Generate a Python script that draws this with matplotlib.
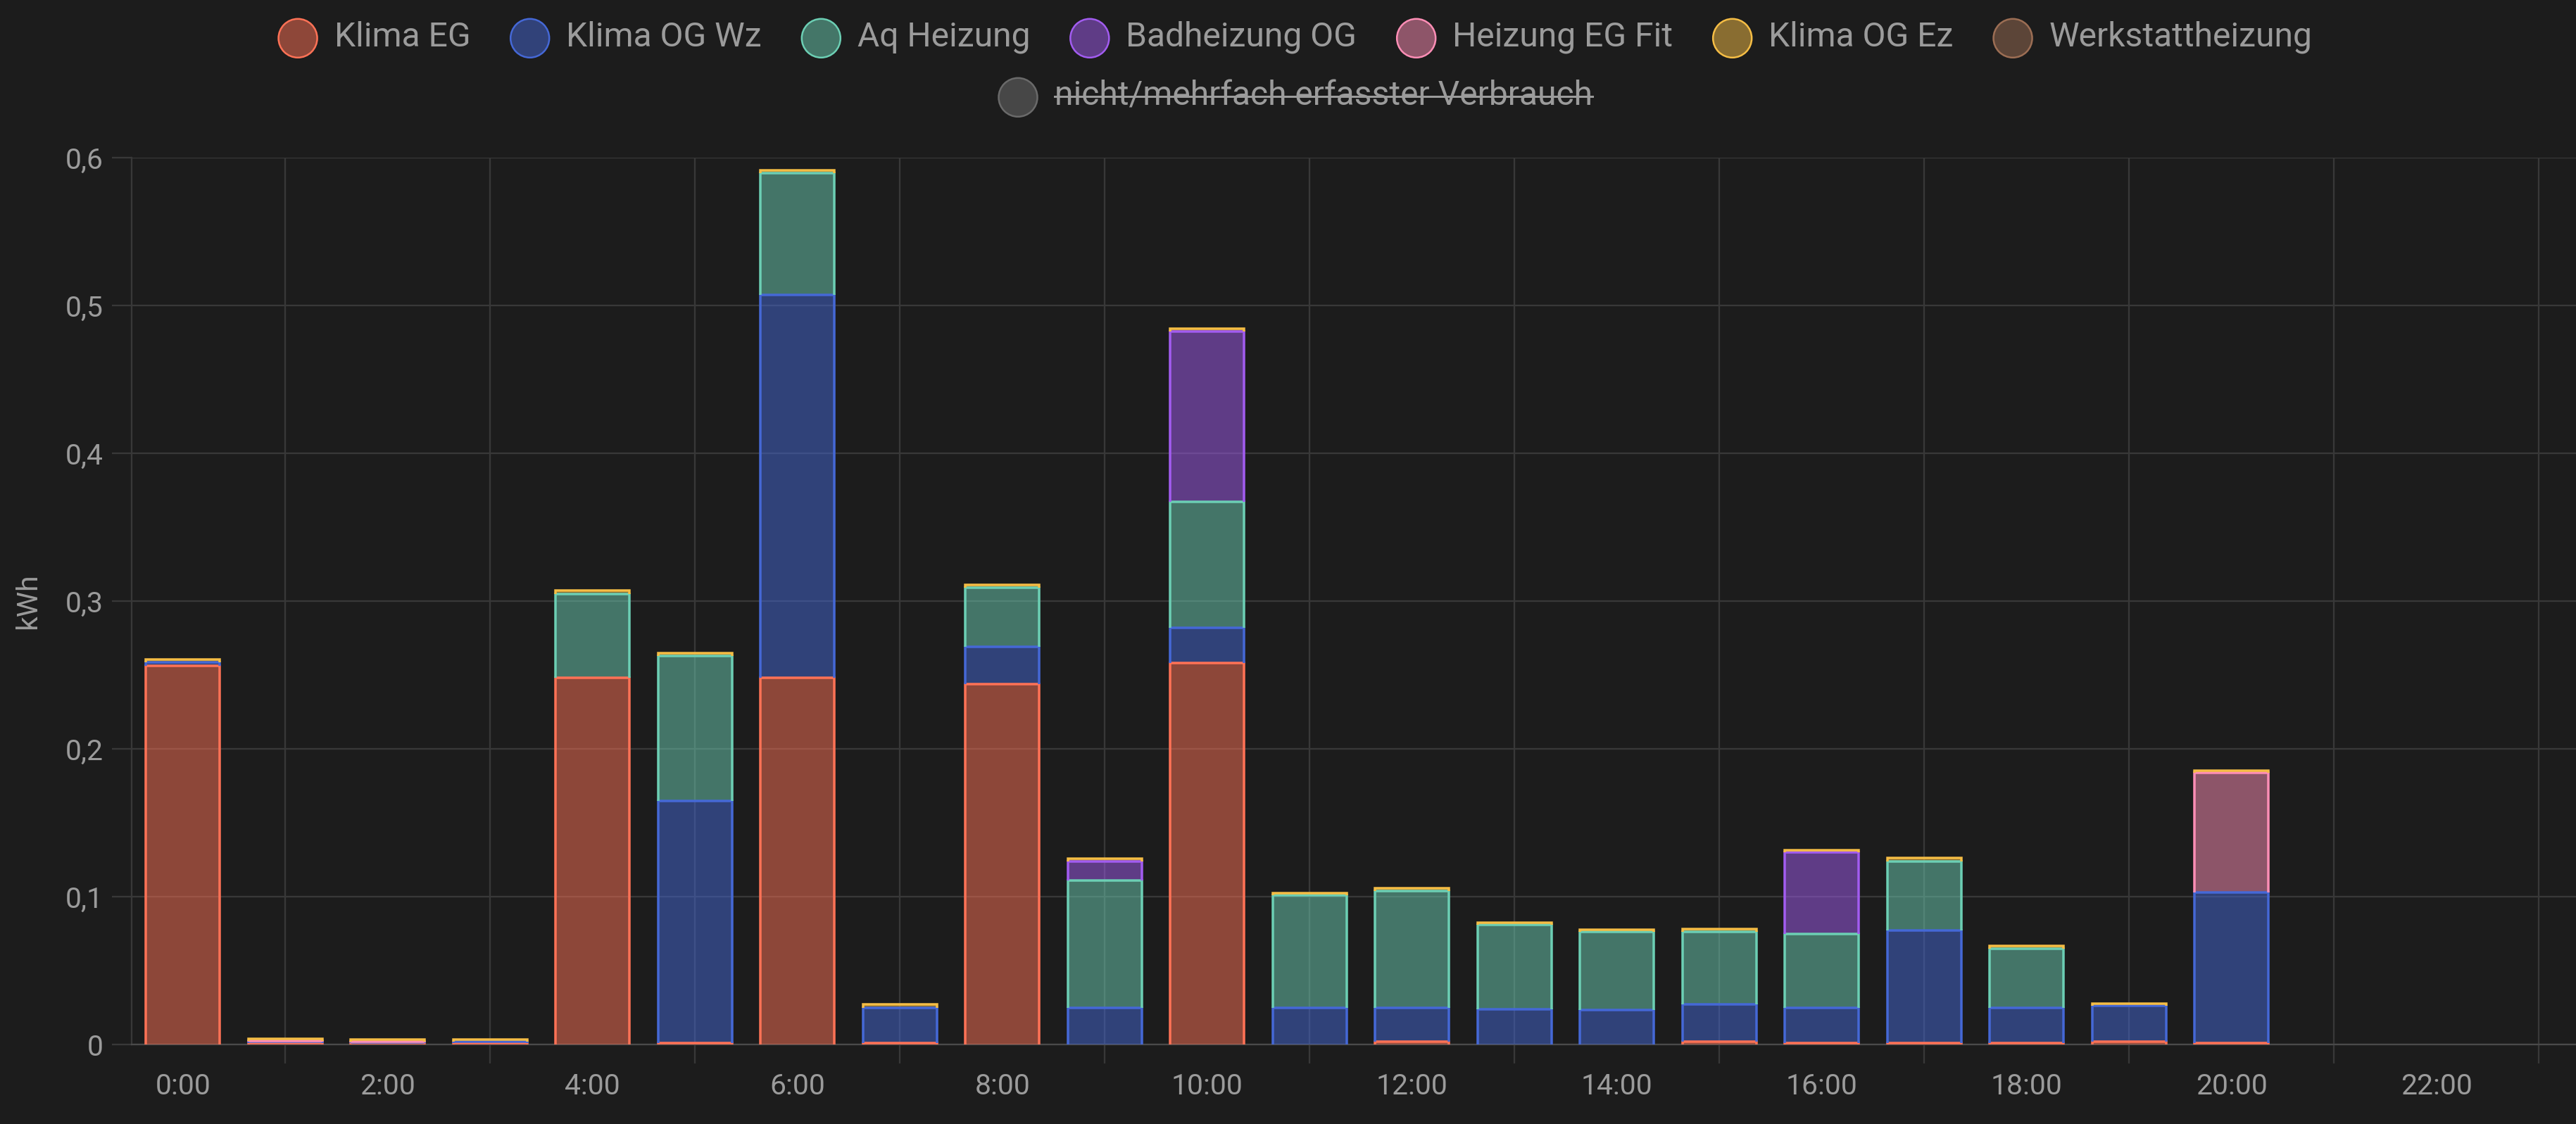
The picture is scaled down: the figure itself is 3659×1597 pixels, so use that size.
import numpy as np
import matplotlib
matplotlib.use("Agg")
import matplotlib.pyplot as plt
from matplotlib.patches import Ellipse
from matplotlib.lines import Line2D

# ---------------- data ----------------
hours = list(range(24))
tick_hours = list(range(0, 24, 2))
tick_labels = [f"{h}:00" for h in tick_hours]
y_ticks = [0, 0.1, 0.2, 0.3, 0.4, 0.5, 0.6]
y_tick_labels = ["0", "0,1", "0,2", "0,3", "0,4", "0,5", "0,6"]

series_names = ["Klima EG", "Klima OG Wz", "Aq Heizung", "Badheizung OG",
                "Heizung EG Fit", "Klima OG Ez", "Werkstattheizung"]
hidden_name = "nicht/mehrfach erfasster Verbrauch"

klima_eg = [0.256, 0.001, 0.001, 0.001, 0.248, 0.001, 0.248, 0.001, 0.244, 0.0,
            0.258, 0.0, 0.002, 0.0, 0.0, 0.002, 0.001, 0.001, 0.001, 0.002,
            0.001, 0.0, 0.0, 0.0]
klima_og_wz = [0.0025, 0.001, 0.0005, 0.001, 0.0, 0.164, 0.259, 0.024, 0.025, 0.025,
               0.024, 0.025, 0.023, 0.024, 0.0235, 0.025, 0.024, 0.076, 0.024, 0.024,
               0.102, 0.0, 0.0, 0.0]
aq_heizung = [0.0, 0.0, 0.0, 0.0, 0.057, 0.098, 0.0826, 0.0, 0.040, 0.086,
              0.085, 0.076, 0.079, 0.057, 0.0525, 0.049, 0.050, 0.047, 0.040, 0.0,
              0.0, 0.0, 0.0, 0.0]
badheizung_og = [0.0, 0.0, 0.0, 0.0, 0.0, 0.0, 0.0, 0.0, 0.0, 0.013,
                 0.1155, 0.0, 0.0, 0.0, 0.0, 0.0, 0.055, 0.0, 0.0, 0.0,
                 0.0, 0.0, 0.0, 0.0]
heizung_eg_fit = [0.0, 0.0005, 0.0005, 0.0, 0.0, 0.0, 0.0, 0.0, 0.0, 0.0,
                  0.0, 0.0, 0.0, 0.0, 0.0, 0.0, 0.0, 0.0, 0.0, 0.0,
                  0.081, 0.0, 0.0, 0.0]
klima_og_ez = [0.002, 0.0015, 0.0015, 0.0015, 0.002, 0.002, 0.002, 0.002, 0.002, 0.0015,
               0.002, 0.0012, 0.0015, 0.0015, 0.0015, 0.002, 0.0015, 0.002, 0.0015, 0.0015,
               0.0013, 0.0, 0.0, 0.0]
werkstattheizung = [0.0] * 24

series_values = [klima_eg, klima_og_wz, aq_heizung, badheizung_og,
                 heizung_eg_fit, klima_og_ez, werkstattheizung]

edge_colors = ["#ff7256", "#4568d6", "#6ccfb4", "#a25cf0",
               "#ff8eb6", "#f5bd45", "#9c6e54"]
hidden_edge = "#6a6a6a"
hidden_fill = "#474747"

# ---------------- style ----------------
BG = "#1c1c1c"
GRID = "#383838"
AXISC = "#4a4a4a"
TXT = "#9b9b9b"
FONT = ["Roboto", "DejaVu Sans"]
plt.rcParams["font.family"] = FONT

W, H = 3659, 1597
DPI = 100
PT = 72.0 / DPI  # pt per px

fig = plt.figure(figsize=(W / DPI, H / DPI), dpi=DPI, facecolor=BG)
ax_left, ax_zero, ax_top = 187, 1484, 224
ax = fig.add_axes([ax_left / W, (H - ax_zero) / H, (W - ax_left) / W, (ax_zero - ax_top) / H])
ax.set_facecolor(BG)

px_per_hour = 145.5
ax.set_xlim(-0.5, -0.5 + (W - ax_left) / px_per_hour)
ax.set_ylim(0, 0.6)

# ---------------- bars ----------------
bar_w = 0.72
bottom = np.zeros(len(hours))
lw_px = 3.5
for name, vals, ec in zip(series_names, series_values, edge_colors):
    vals = np.asarray(vals, dtype=float)
    bars = ax.bar(hours, vals, width=bar_w, bottom=bottom, color=ec, alpha=0.5,
                  edgecolor="none", zorder=3)
    for p in bars.patches:
        h = p.get_height()
        if h <= 0:
            continue
        x0, y0, w = p.get_x(), p.get_y(), p.get_width()
        ax.plot([x0, x0, x0 + w, x0 + w], [y0, y0 + h, y0 + h, y0],
                color=ec, lw=lw_px * PT, solid_joinstyle="miter",
                solid_capstyle="butt", zorder=4)
    bottom = bottom + vals

# ---------------- axes styling ----------------
for s in ["top", "right"]:
    ax.spines[s].set_visible(False)
ax.spines["left"].set_color(GRID)
ax.spines["left"].set_linewidth(2.3 * PT)
ax.spines["bottom"].set_color(AXISC)
ax.spines["bottom"].set_linewidth(2.3 * PT)

ax.set_yticks(y_ticks)
ax.set_yticklabels(y_tick_labels)
ax.tick_params(axis="y", length=28 * PT, width=2.3 * PT, color=GRID,
               labelsize=29.4, labelcolor=TXT, pad=12 * PT)

ax.set_xticks(tick_hours)
ax.set_xticklabels(tick_labels)
ax.set_xticks(list(range(1, 24, 2)), minor=True)
ax.tick_params(axis="x", which="major", length=0, labelsize=29.4, labelcolor=TXT,
               pad=40 * PT)
ax.tick_params(axis="x", which="minor", length=27 * PT, width=2.3 * PT, color=GRID)

ax.set_axisbelow(True)
ax.yaxis.grid(True, color=GRID, lw=2.3 * PT, zorder=0)
ax.xaxis.grid(True, which="minor", color=GRID, lw=2.3 * PT, zorder=0)
ax.xaxis.grid(False, which="major")

fig.text(40 / W, 1 - 854 / H, "kWh", rotation=90, ha="center", va="center",
         color=TXT, fontsize=29.4)

# ---------------- legend ----------------
renderer = fig.canvas.get_renderer()
LEG_FS = 34.6
circ_d = 55
gap_ct = 24
gap_tc = 57
center_x = 1840


def legend_row(entries, circle_cy, baseline_y, strike=False):
    texts = []
    widths = []
    for name, ec, fc in entries:
        t = fig.text(0, 1 - baseline_y / H, name, color=TXT, fontsize=LEG_FS,
                     ha="left", va="baseline")
        bb = t.get_window_extent(renderer)
        texts.append(t)
        widths.append(bb.width)
    total = sum(circ_d + gap_ct + w for w in widths) + gap_tc * (len(widths) - 1)
    x = center_x - total / 2
    for (name, ec, fc), t, w in zip(entries, texts, widths):
        cx = x + circ_d / 2
        e = Ellipse((cx / W, 1 - circle_cy / H), circ_d / W, circ_d / H,
                    transform=fig.transFigure, facecolor=fc, edgecolor=ec,
                    lw=2.5 * PT)
        fig.add_artist(e)
        tx = x + circ_d + gap_ct
        t.set_x(tx / W)
        if strike:
            fig.add_artist(Line2D([tx / W, (tx + w) / W],
                                  [1 - (circle_cy - 1.5) / H, 1 - (circle_cy - 1.5) / H],
                                  transform=fig.transFigure, color=TXT, lw=3 * PT))
        x = tx + w + gap_tc


def blend(hex_c, a=0.5):
    c = np.array(matplotlib.colors.to_rgb(hex_c))
    b = np.array(matplotlib.colors.to_rgb(BG))
    return tuple(c * a + b * (1 - a))


row1 = [(n, ec, blend(ec)) for n, ec in zip(series_names, edge_colors)]
legend_row(row1, 54.3, 65.5)
legend_row([(hidden_name, hidden_edge, hidden_fill)], 138.3, 149.5, strike=True)

fig.savefig("out.png", dpi=DPI, facecolor=BG)
